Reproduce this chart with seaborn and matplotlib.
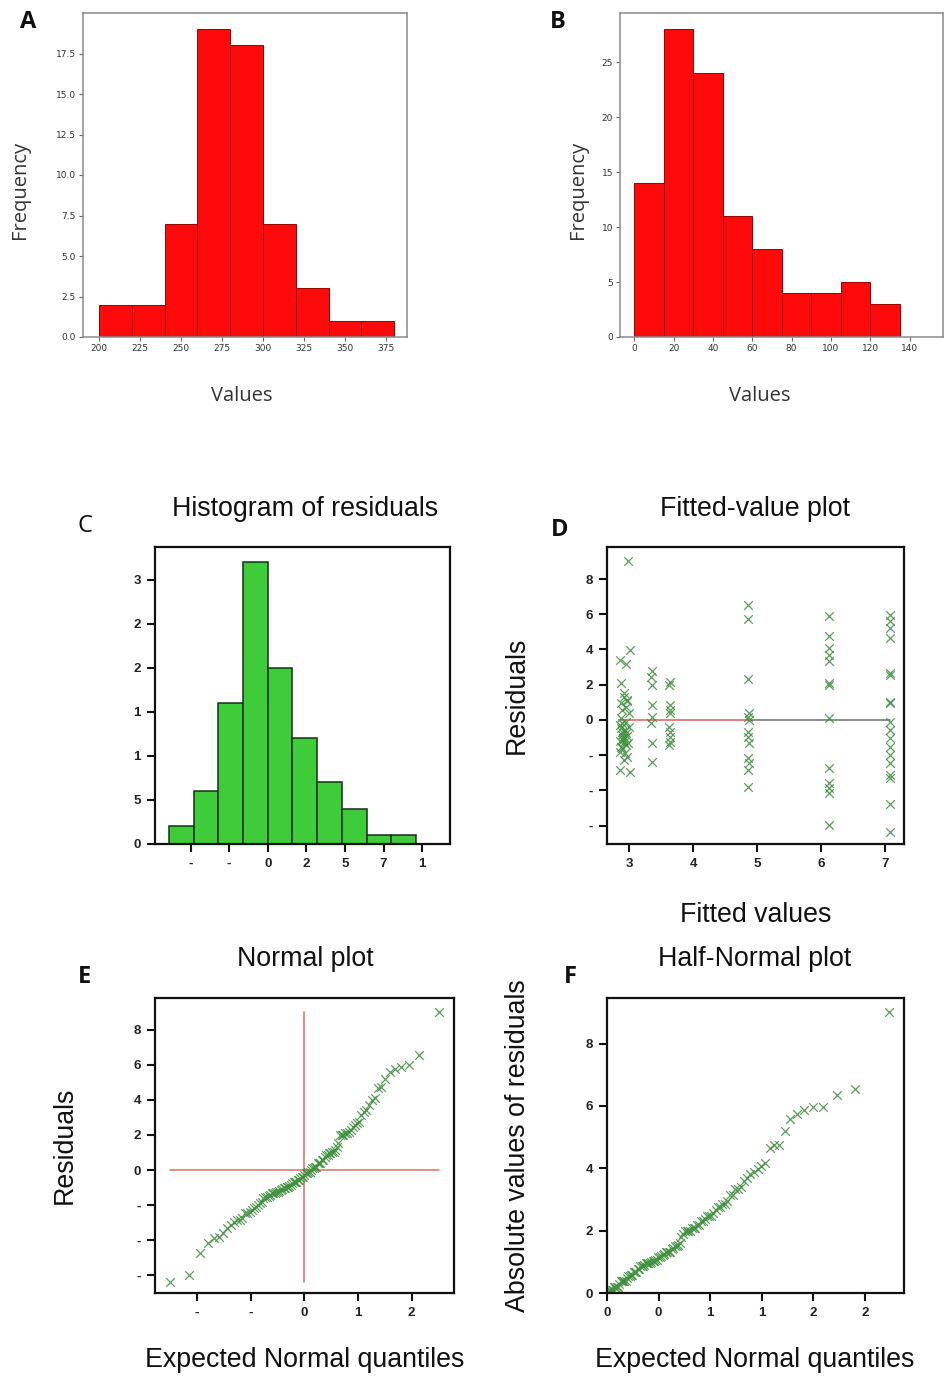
import numpy as np
import pandas as pd
import matplotlib
matplotlib.use("Agg")
import matplotlib.pyplot as plt
import seaborn as sns
from statistics import NormalDist

# ---------------- data ----------------
# Panel A histogram
a_edges = [200, 220, 240, 260, 280, 300, 320, 340, 360, 380]
a_counts = [2, 2, 7, 19, 18, 7, 3, 1, 1]
a_xticks = [200, 225, 250, 275, 300, 325, 350, 375]
a_yticks = [0.0, 2.5, 5.0, 7.5, 10.0, 12.5, 15.0, 17.5]

# Panel B histogram
b_edges = [0, 15, 30, 45, 60, 75, 90, 105, 120, 135]
b_counts = [14, 28, 24, 11, 8, 4, 4, 5, 3]
b_xticks = [0, 20, 40, 60, 80, 100, 120, 140]
b_yticks = [0, 5, 10, 15, 20, 25]

# Panel C histogram of residuals
c_edges = [-6.4, -4.8, -3.2, -1.6, 0.0, 1.6, 3.2, 4.8, 6.4, 8.0, 9.6]
c_counts = [2, 6, 16, 32, 20, 12, 7, 4, 1, 1]
c_xticks = [-5, -2.5, 0, 2.5, 5, 7.5, 10]
c_xticklabels = ["-", "-", "0", "2", "5", "7", "1"]
c_yticks = [0, 5, 10, 15, 20, 25, 30]
c_yticklabels = ["0", "5", "1", "1", "2", "2", "3"]

# Panel D: fitted values and residuals
fitted = [2.98, 3.01, 2.86, 2.94, 2.87, 2.92, 2.97, 2.87, 2.94, 3.00, 2.87, 2.92, 2.89,
          2.96, 2.89, 2.87, 2.95, 2.90, 2.98, 2.86, 2.93, 2.88, 2.97, 2.91, 2.86, 2.95,
          2.89, 3.00, 2.92, 2.87, 2.94, 2.90, 2.88, 2.93, 2.97, 2.85, 3.01, 2.91, 2.86,
          3.35, 3.34, 3.36, 3.35, 3.35, 3.34, 3.35, 3.35,
          3.63, 3.62, 3.63, 3.64, 3.63, 3.62, 3.63, 3.64, 3.63, 3.62,
          4.86, 4.86, 4.86, 4.87, 4.86, 4.87, 4.86, 4.86, 4.87, 4.86, 4.87, 4.86, 4.86,
          6.12, 6.12, 6.12, 6.12, 6.12, 6.12, 6.12, 6.12, 6.12, 6.12, 6.12, 6.12, 6.12,
          7.07, 7.07, 7.07, 7.07, 7.07, 7.07, 7.07, 7.07, 7.07, 7.07, 7.07, 7.07, 7.07,
          7.07, 7.07, 7.07, 7.07, 7.07]
residuals = [9.00, 3.98, 3.41, 3.15, 2.09, 1.52, 1.14, 0.95, 0.76, 0.38, 0.10, 1.30, 0.55,
             1.05, -0.19, -0.47, -0.76, -1.14, -1.33, -0.30, -0.55, -0.66, -0.90, -1.00,
             -1.20, -1.45, -0.85, -0.40, -1.25, -1.55, -0.10, -1.05, -1.61, -1.90, -2.09,
             -2.84, -2.94, -2.30, -1.80,
             2.75, 2.46, 1.99, 0.85, 0.19, -0.19, -1.33, -2.37,
             2.18, 1.99, 0.85, 0.57, 0.38, -0.38, -0.66, -0.95, -1.23, -1.42,
             6.54, 5.74, 2.31, 0.38, 0.19, 0.00, -0.66, -0.95, -1.33, -2.18, -2.46, -2.84, -3.83,
             5.88, 4.74, 4.08, 3.70, 3.32, 2.09, 1.99, 0.10, -2.75, -3.60, -3.89, -4.17, -5.97,
             5.97, 5.59, 5.21, 4.65, 2.66, 2.56, 1.04, 0.95, -0.10, -0.57, -1.04, -1.52,
             -1.99, -2.46, -3.13, -3.32, -4.75, -6.35]
d_xticks = [3, 4, 5, 6, 7]
res_yticks = [-6, -4, -2, 0, 2, 4, 6, 8]
res_yticklabels = ["-", "-", "-", "0", "2", "4", "6", "8"]

e_xticks = [-2, -1, 0, 1, 2]
e_xticklabels = ["-", "-", "0", "1", "2"]
f_xticks = [0, 0.5, 1, 1.5, 2, 2.5]
f_xticklabels = ["0", "0", "1", "1", "2", "2"]
f_yticks = [0, 2, 4, 6, 8]

# ---------------- derived (probability-plot positions) ----------------
n = len(residuals)
nd = NormalDist()
sorted_res = np.sort(residuals)
norm_q = [nd.inv_cdf((i - 0.375) / (n + 0.25)) for i in range(1, n + 1)]
sorted_abs = np.sort(np.abs(residuals))
half_q = [nd.inv_cdf(0.5 + 0.5 * (i - 0.375) / (n + 0.25)) for i in range(1, n + 1)]

df_d = pd.DataFrame({"fitted": fitted, "resid": residuals})
df_e = pd.DataFrame({"q": norm_q, "r": sorted_res})
df_f = pd.DataFrame({"q": half_q, "r": sorted_abs})

# ---------------- style ----------------
sns.set_theme(style="ticks")
plt.rcParams["font.family"] = ["Liberation Sans", "DejaVu Sans"]

W, H = 945, 1386
fig = plt.figure(figsize=(W / 100, H / 100), dpi=100)


def rect(l, t, r, b):
    return [l / W, 1 - b / H, (r - l) / W, (b - t) / H]


def fxy(x, y):
    return x / W, 1 - y / H


LETTER_FONT = ["Open Sans", "DejaVu Sans"]
LABEL_FONT = ["Open Sans", "DejaVu Sans"]


def style_ab(ax):
    for s in ax.spines.values():
        s.set_color("#8a8a8a")
        s.set_linewidth(1.1)
    ax.tick_params(axis="both", direction="out", length=3, width=0.8, color="#666666",
                   labelsize=6.5, labelcolor="#333333", pad=2)
    for lab in ax.get_xticklabels() + ax.get_yticklabels():
        lab.set_family(["DejaVu Sans"])


def style_cf(ax):
    for s in ax.spines.values():
        s.set_color("#111111")
        s.set_linewidth(1.6)
    ax.tick_params(axis="both", direction="out", length=6, width=1.5, color="#111111",
                   labelsize=9.6, labelcolor="#222222", pad=4)
    for lab in ax.get_xticklabels() + ax.get_yticklabels():
        lab.set_fontweight("bold")


TITLE_KW = dict(fontsize=19.3, color="#111111")
AXLAB_KW = dict(fontsize=19.3, color="#111111")

# ---------------- Panel A ----------------
axA = fig.add_axes(rect(83, 13, 407, 337))
a_mid = [(a_edges[i] + a_edges[i + 1]) / 2 for i in range(len(a_counts))]
sns.histplot(x=a_mid, weights=a_counts, bins=a_edges, color="#ff0a0a", alpha=1,
             edgecolor="#9a0000", linewidth=0.7, ax=axA)
axA.set_xlim(190.2, 387.8)
axA.set_ylim(0, 20)
axA.set_xticks(a_xticks)
axA.set_yticks(a_yticks)
axA.set_yticklabels([f"{v:.1f}" for v in a_yticks])
style_ab(axA)
axA.set_xlabel("Values", fontsize=14.5, color="#333333", family=LABEL_FONT)
axA.set_ylabel("Frequency", fontsize=14.5, color="#333333", family=LABEL_FONT)
axA.xaxis.set_label_coords(0.491, -0.182)
axA.xaxis.label.set_va("center")
axA.yaxis.set_label_coords(-0.194, 0.454)
axA.yaxis.label.set_va("center")

# ---------------- Panel B ----------------
axB = fig.add_axes(rect(620, 13, 943, 337))
b_mid = [(b_edges[i] + b_edges[i + 1]) / 2 for i in range(len(b_counts))]
sns.histplot(x=b_mid, weights=b_counts, bins=b_edges, color="#ff0a0a", alpha=1,
             edgecolor="#9a0000", linewidth=0.7, ax=axB)
axB.set_xlim(-7.3, 157)
axB.set_ylim(0, 29.5)
axB.set_xticks(b_xticks)
axB.set_yticks(b_yticks)
style_ab(axB)
axB.set_xlabel("Values", fontsize=14.5, color="#333333", family=LABEL_FONT)
axB.set_ylabel("Frequency", fontsize=14.5, color="#333333", family=LABEL_FONT)
axB.xaxis.set_label_coords(0.433, -0.182)
axB.xaxis.label.set_va("center")
axB.yaxis.set_label_coords(-0.13, 0.454)
axB.yaxis.label.set_va("center")

# ---------------- Panel C ----------------
axC = fig.add_axes(rect(155, 547, 450, 844))
c_mid = [(c_edges[i] + c_edges[i + 1]) / 2 for i in range(len(c_counts))]
sns.histplot(x=c_mid, weights=c_counts, bins=c_edges, color="#3fcc3a", alpha=1,
             edgecolor="#143214", linewidth=1.1, ax=axC)
axC.set_xlim(-7.3, 11.8)
axC.set_ylim(0, 33.7)
axC.set_xticks(c_xticks)
axC.set_xticklabels(c_xticklabels)
axC.set_yticks(c_yticks)
axC.set_yticklabels(c_yticklabels)
axC.set_xlabel("")
axC.set_ylabel("")
style_cf(axC)
axC.set_title("Histogram of residuals", x=0.508, y=1.101, va="center", **TITLE_KW)

# ---------------- Panel D ----------------
MK = dict(marker="x", s=38, linewidth=0.9, color="#3f8f3f", alpha=0.85)
axD = fig.add_axes(rect(607, 547, 904, 844))
fmin, fmax = min(fitted), max(fitted)
axD.plot([fmin, 4.86], [0, 0], color="#e26a6a", lw=1.2, zorder=1)
axD.plot([4.86, fmax], [0, 0], color="#7a7a7a", lw=1.2, zorder=1)
sns.scatterplot(data=df_d, x="fitted", y="resid", ax=axD, zorder=2, **MK)
axD.set_xlim(2.65, 7.29)
axD.set_ylim(-7.05, 9.82)
axD.set_xticks(d_xticks)
axD.set_yticks(res_yticks)
axD.set_yticklabels(res_yticklabels)
style_cf(axD)
axD.set_title("Fitted-value plot", x=0.498, y=1.101, va="center", **TITLE_KW)
axD.set_xlabel("Fitted values", **AXLAB_KW)
axD.set_ylabel("Residuals", **AXLAB_KW)
axD.xaxis.set_label_coords(0.5, -0.239)
axD.xaxis.label.set_va("center")
axD.yaxis.set_label_coords(-0.303, 0.502)
axD.yaxis.label.set_va("center")

# ---------------- Panel E ----------------
axE = fig.add_axes(rect(155, 998, 454, 1293))
axE.plot([min(norm_q), max(norm_q)], [0, 0], color="#e26a6a", lw=1.1, zorder=1)
axE.plot([0, 0], [min(residuals), max(residuals)], color="#e26a6a", lw=1.1, zorder=1)
sns.scatterplot(data=df_e, x="q", y="r", ax=axE, zorder=2, **MK)
axE.set_xlim(-2.78, 2.79)
axE.set_ylim(-7.0, 9.8)
axE.set_xticks(e_xticks)
axE.set_xticklabels(e_xticklabels)
axE.set_yticks(res_yticks)
axE.set_yticklabels(res_yticklabels)
style_cf(axE)
axE.set_title("Normal plot", x=0.502, y=1.105, va="center", **TITLE_KW)
axE.set_xlabel("Expected Normal quantiles", **AXLAB_KW)
axE.set_ylabel("Residuals", **AXLAB_KW)
axE.xaxis.set_label_coords(0.502, -0.227)
axE.xaxis.label.set_va("center")
axE.yaxis.set_label_coords(-0.301, 0.502)
axE.yaxis.label.set_va("center")

# ---------------- Panel F ----------------
axF = fig.add_axes(rect(607, 998, 904, 1293))
sns.scatterplot(data=df_f, x="q", y="r", ax=axF, zorder=2, **MK)
axF.set_xlim(0, 2.88)
axF.set_ylim(0, 9.46)
axF.set_xticks(f_xticks)
axF.set_xticklabels(f_xticklabels)
axF.set_yticks(f_yticks)
style_cf(axF)
axF.set_title("Half-Normal plot", x=0.498, y=1.105, va="center", **TITLE_KW)
axF.set_xlabel("Expected Normal quantiles", **AXLAB_KW)
axF.set_ylabel("Absolute values of residuals", **AXLAB_KW)
axF.xaxis.set_label_coords(0.498, -0.227)
axF.xaxis.label.set_va("center")
axF.yaxis.set_label_coords(-0.30, 0.50)
axF.yaxis.label.set_va("center")

# ---------------- panel letters ----------------
letters = [("A", 28, 22, "bold"), ("B", 558, 22, "bold"), ("C", 85, 526, "normal"),
           ("D", 560, 530, "bold"), ("E", 85, 977, "bold"), ("F", 570, 977, "bold")]
for txt, x, y, wt in letters:
    fx, fy = fxy(x, y)
    fig.text(fx, fy, txt, ha="center", va="center", fontsize=17, fontweight=wt,
             family=LETTER_FONT, color="#111111")

fig.savefig("out.png", dpi=100)
